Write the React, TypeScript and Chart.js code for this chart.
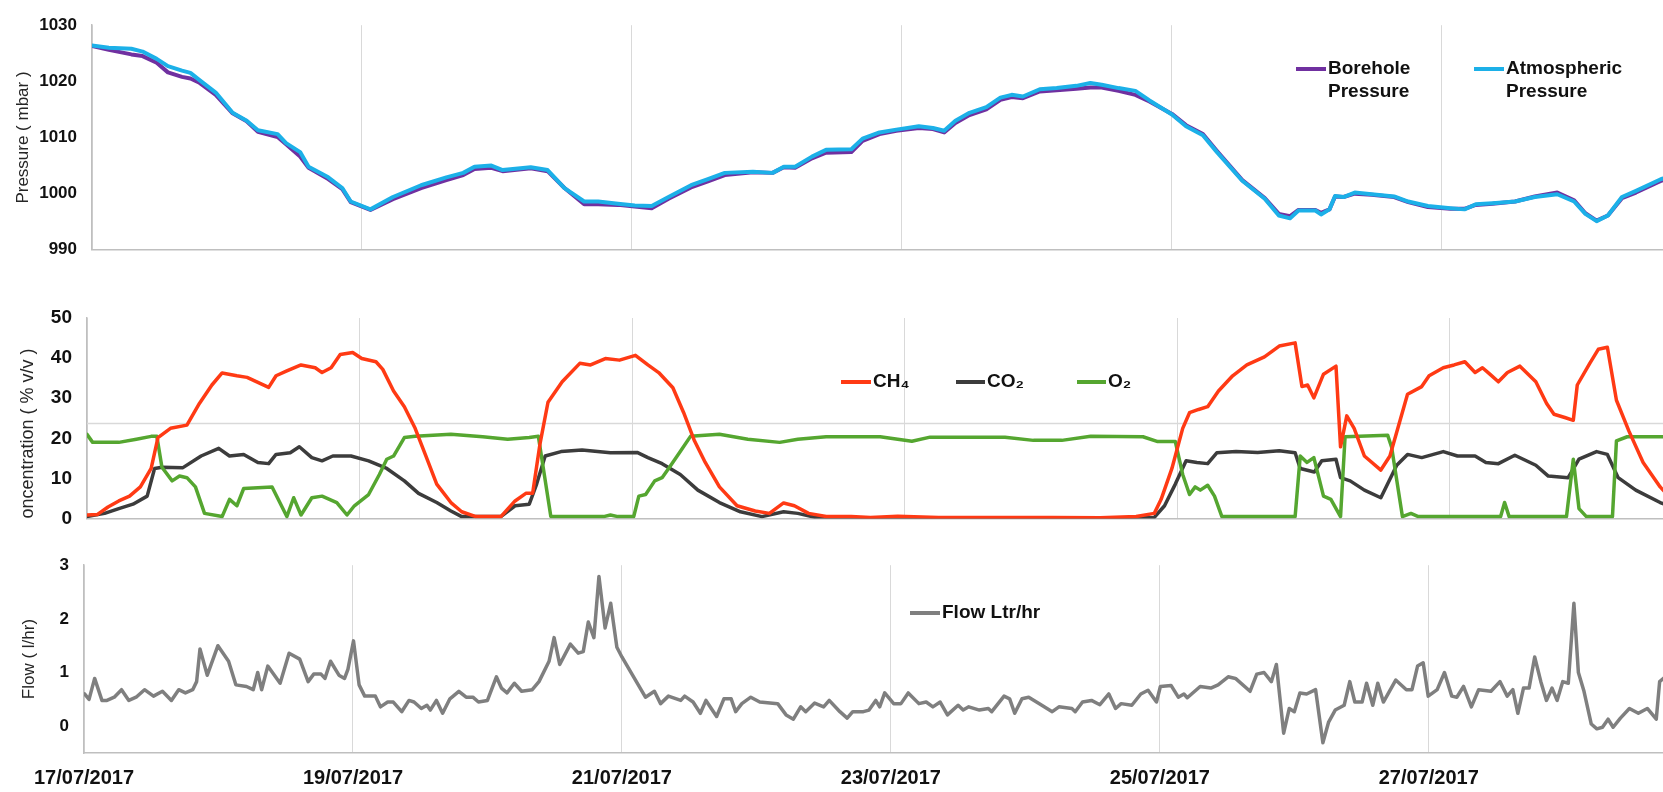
import { useEffect, useRef } from "react";
import { Chart, registerables } from "chart.js";

Chart.register(...registerables);

const FONT = '"Liberation Sans", Arial, Helvetica, sans-serif';

// ---------- shared x axis (hours since 17/07/2017 00:00) ----------
const dateTickLabels = ["17/07/2017", "19/07/2017", "21/07/2017", "23/07/2017", "25/07/2017", "27/07/2017"];
const dateTickStepHours = 48;

// ---------- panel 1 : pressure ----------
const pressureHours = [
  0, 3, 5, 7, 9, 11.5, 13.5, 16, 17.5, 19,
  22, 25, 27.5, 29.5, 33, 34.5, 37, 38.5, 42, 44.5,
  46, 49.5, 53.5, 58.5, 63, 66, 68, 71, 73, 78,
  81, 84, 87.5, 90, 93.5, 96.5, 99.5, 102.5, 106.5, 109.5,
  112.5, 117.5, 121, 123, 125, 128, 130.5, 135, 137, 140,
  143, 147, 149.5, 151.5, 153.5, 156, 159, 161.5, 163.5, 165.5,
  168.5, 171.5, 175, 177.5, 179.5, 182.5, 185.5, 188, 192, 194.5,
  197.5, 200, 204.5, 208.5, 211, 213, 214.5, 217.5, 218.5, 220,
  221, 222.5, 224.5, 227.5, 231.5, 234, 237.5, 241.5, 244, 246,
  249, 253, 256.5, 260.5, 263.5, 265.5, 267.5, 269.5, 272, 274.5,
  279, 282,
];
const atmosphericPressure = [
  1026.4, 1026.0, 1025.9, 1025.8, 1025.3, 1024.0, 1022.7, 1021.9, 1021.5, 1020.3,
  1018.0, 1014.4, 1013.0, 1011.3, 1010.6, 1009.0, 1007.4, 1004.8, 1002.9, 1001.0,
  998.6, 997.2, 999.4, 1001.5, 1002.9, 1003.7, 1004.8, 1005.0, 1004.2, 1004.7,
  1004.2, 1001.0, 998.6, 998.6, 998.2, 997.9, 997.8, 999.4, 1001.5, 1002.6,
  1003.7, 1003.9, 1003.7, 1004.8, 1004.8, 1006.6, 1007.8, 1007.9, 1009.8, 1010.9,
  1011.4, 1012.0, 1011.7, 1011.2, 1013.0, 1014.4, 1015.4, 1017.1, 1017.6, 1017.3,
  1018.6, 1018.8, 1019.2, 1019.7, 1019.4, 1018.8, 1018.3, 1016.6, 1014.1, 1012.0,
  1010.4, 1007.4, 1002.3, 999.1, 996.1, 995.6, 997.0, 997.0, 996.3, 997.2,
  999.6, 999.4, 1000.2, 999.9, 999.5, 998.6, 997.8, 997.4, 997.2, 998.1,
  998.3, 998.6, 999.4, 999.9, 998.6, 996.4, 995.1, 996.1, 999.4, 1000.5,
  1002.6, 1003.4,
];
const boreholePressure = [
  1026.3, 1025.6, 1025.2, 1024.8, 1024.5, 1023.3, 1021.6, 1020.8, 1020.5, 1019.8,
  1017.6, 1014.3, 1012.9, 1011.0, 1010.1, 1008.8, 1006.6, 1004.6, 1002.6, 1000.8,
  998.5, 997.1, 999.0, 1001.0, 1002.4, 1003.3, 1004.4, 1004.6, 1004.0, 1004.5,
  1004.0, 1001.0, 998.1, 998.1, 998.0, 997.7, 997.4, 999.1, 1001.1, 1002.2,
  1003.3, 1003.8, 1003.7, 1004.7, 1004.6, 1006.3, 1007.3, 1007.4, 1009.4, 1010.6,
  1011.2, 1011.7, 1011.5, 1010.9, 1012.6, 1014.0, 1015.0, 1016.7, 1017.2, 1017.0,
  1018.2, 1018.4, 1018.7, 1018.9, 1018.9, 1018.3, 1017.6, 1016.4, 1014.2, 1012.2,
  1010.6, 1007.6, 1002.4, 999.2, 996.4, 996.0, 997.1, 997.1, 996.6, 997.2,
  999.5, 999.4, 1000.0, 999.8, 999.4, 998.5, 997.6, 997.3, 997.3, 998.0,
  998.2, 998.6, 999.5, 1000.2, 998.8, 996.5, 995.2, 996.1, 999.2, 1000.2,
  1002.3, 1003.1,
];
const pressureTicks = [990, 1000, 1010, 1020, 1030];

// ---------- panel 2 : gas concentration ----------
const ch4Hours = [
  0, 1.8, 3.7, 5.6, 7.5, 9.4, 11.3, 12.5, 14.7, 17.6,
  19.8, 22, 23.8, 26.4, 28.2, 32, 33.3, 35.2, 37.7, 40.2,
  41.4, 43, 44.6, 46.8, 48.4, 50.9, 52.1, 54, 55.9, 57.8,
  59.7, 61.6, 64.1, 66, 68.5, 72.9, 75.4, 77.3, 78.5, 79.8,
  81.2, 83.7, 86.8, 88.7, 91.3, 93.8, 96.6, 98.8, 100.7, 103.2,
  105.1, 107, 108.9, 111.4, 114.5, 117.7, 120.2, 122.7, 124.6, 127.1,
  130.2, 134.6, 138, 142.8, 150, 160, 170, 178.5, 184.8, 188,
  189.2, 191.1, 193, 194.2, 195.8, 197.4, 199.3, 201.8, 204.3, 207.4,
  210, 212.8, 214, 215, 216.1, 217.8, 220, 220.8, 221.9, 223.2,
  225, 227.9, 229.5, 232.6, 235.1, 236.4, 238.9, 240.8, 242.7, 244.5,
  245.8, 247.1, 248.6, 250.2, 252.4, 255.2, 257.1, 258.4, 260.3, 261.8,
  262.5, 264.7, 266.2, 267.8, 269.4, 271.6, 274.1, 277.1, 279,
];
const ch4Values = [
  0.9, 1.0, 2.9, 4.4, 5.6, 7.9, 12.5, 20.2, 22.5, 23.3,
  28.7, 33.3, 36.3, 35.6, 35.2, 32.7, 35.6, 36.8, 38.3, 37.6,
  36.4, 37.6, 40.9, 41.4, 39.9, 39.1, 37.2, 31.8, 27.9, 22.5,
  15.6, 8.6, 4.0, 1.7, 0.5, 0.5, 4.4, 6.3, 6.3, 18.7,
  29.0, 34.1, 38.7, 38.3, 39.9, 39.5, 40.7, 38.3, 36.4, 32.6,
  26.4, 19.4, 14.0, 7.9, 3.2, 1.9, 1.3, 3.9, 3.2, 1.3,
  0.5, 0.5, 0.3, 0.6, 0.3, 0.3, 0.3, 0.2, 0.5, 1.3,
  4.8, 12.5, 22.5, 26.4, 27.2, 27.9, 31.8, 35.6, 38.3, 40.3,
  43.0, 43.8, 32.9, 33.3, 30.1, 36.0, 38.0, 17.9, 25.6, 22.5,
  15.6, 12.1, 15.6, 31.0, 32.9, 35.6, 37.6, 38.3, 39.1, 36.4,
  37.6, 36.0, 34.1, 36.4, 38.0, 34.1, 28.7, 26.0, 25.2, 24.5,
  33.3, 38.7, 42.2, 42.7, 29.5, 21.8, 14.0, 7.9, 5.0,
];
const co2Hours = [
  0, 3.1, 5.6, 8.1, 10.6, 11.9, 13.2, 16.9, 20.1, 23.2,
  25.1, 27.6, 30.1, 32, 33.3, 35.8, 37.4, 39.6, 41.4, 43.3,
  46.5, 49.6, 52.8, 55.9, 58.4, 61.6, 64.1, 66, 72.9, 75.4,
  77.9, 79.2, 80.7, 83.5, 87.2, 92.2, 96.9, 98.8, 101.3, 104.5,
  107.6, 111.4, 115.1, 118.9, 122.7, 125.2, 128.3, 150, 188, 189.8,
  191.7, 193.6, 195.5, 197.4, 199, 202.4, 206.2, 210, 212.8, 213.7,
  216.2, 217.5, 220, 220.8, 222.5, 225, 227.9, 230.7, 232.6, 235.1,
  238.9, 241.4, 244.5, 246.4, 248.6, 251.5, 255.2, 257.4, 260.9, 262.8,
  265.9, 267.8, 269.7, 272.8, 277.1, 279,
];
const co2Values = [
  0.5, 1.3, 2.5, 3.6, 5.6, 12.5, 12.8, 12.7, 15.6, 17.5,
  15.6, 16.0, 14.0, 13.7, 16.0, 16.4, 17.9, 15.2, 14.4, 15.6,
  15.6, 14.4, 12.5, 9.4, 6.3, 4.0, 1.9, 0.5, 0.5, 3.2,
  3.6, 8.6, 15.6, 16.7, 17.1, 16.4, 16.5, 15.2, 13.7, 11.0,
  7.1, 4.0, 1.7, 0.5, 1.7, 1.3, 0.3, 0.2, 0.3, 3.2,
  8.6, 14.4, 14.0, 13.7, 16.4, 16.7, 16.5, 16.9, 16.4, 12.5,
  11.6, 14.4, 14.8, 10.2, 9.4, 7.1, 5.2, 13.3, 16.0, 15.2,
  16.7, 15.6, 15.6, 14.0, 13.7, 15.8, 13.3, 10.6, 10.2, 14.8,
  16.7, 16.0, 10.2, 7.1, 4.0, 3.0,
];
const o2Hours = [
  0, 1, 5.6, 8.7, 11.3, 12.3, 13.2, 15, 16.3, 17.6,
  19.1, 20.7, 23.8, 25.1, 26.4, 27.6, 32.6, 35.2, 36.4, 37.7,
  39.6, 41.4, 44, 45.8, 47.1, 49.6, 51.5, 52.8, 54, 55.9,
  57.8, 64.1, 69.7, 74.1, 77.9, 79.5, 81.7, 91, 92.2, 93.5,
  96.3, 97.2, 98.4, 100, 101.3, 102.6, 104.5, 106.3, 111.4, 116.4,
  122, 125.2, 130.2, 139.7, 142.8, 145.3, 148.5, 161.7, 166.7, 171.7,
  176.8, 186, 188.6, 191.7, 193, 194.2, 195.2, 196.1, 197.4, 198.6,
  199.9, 212.8, 213.7, 214.9, 216.1, 217.8, 219.1, 220.8, 221.6, 229.1,
  229.8, 231.7, 233.2, 234.5, 249, 249.7, 250.5, 260.6, 261.8, 262.8,
  264.1, 268.7, 269.4, 271.3, 279,
];
const o2Values = [
  21.0, 19.0, 19.0, 19.8, 20.5, 20.5, 12.8, 9.4, 10.6, 10.2,
  7.9, 1.3, 0.5, 4.8, 3.2, 7.5, 7.9, 0.5, 5.2, 0.9,
  5.2, 5.6, 4.0, 0.9, 3.2, 6.0, 11.0, 14.8, 15.6, 20.2,
  20.5, 21.0, 20.4, 19.8, 20.2, 20.5, 0.5, 0.5, 0.9, 0.5,
  0.5, 5.6, 6.0, 9.4, 10.2, 12.8, 16.7, 20.5, 21.0, 19.8,
  19.0, 19.8, 20.4, 20.4, 19.8, 19.3, 20.3, 20.3, 19.5, 19.5,
  20.5, 20.4, 19.2, 19.2, 11.0, 6.0, 7.9, 7.1, 8.3, 5.6,
  0.5, 0.5, 15.6, 14.0, 15.2, 5.6, 4.8, 0.5, 20.4, 20.8,
  17.8, 0.5, 1.3, 0.5, 0.5, 4.0, 0.5, 0.5, 14.8, 2.5,
  0.5, 0.5, 19.4, 20.4, 20.4,
];
const gasTicks = [0, 10, 20, 30, 40, 50];
const gasReferenceLevel = 23.7;

// ---------- panel 3 : flow ----------
const flowHours = [
  0.1, 0.9, 1.9, 3.2, 4.1, 5.4, 6.7, 8, 9.3, 10.8,
  12.4, 14, 15.6, 16.9, 18.1, 19.4, 20.1, 20.7, 22, 23.9,
  25.8, 27.1, 29, 30.2, 31, 31.7, 32.8, 35, 36.6, 38.5,
  40, 41, 42.3, 43, 44, 45.5, 46.5, 47.1, 48.1, 49.1,
  50.1, 52, 52.9, 54.2, 55.2, 56.7, 58, 58.9, 60.2, 61.2,
  61.8, 62.9, 64, 65.3, 66.9, 68.2, 69.4, 70.4, 72, 73.6,
  74.5, 75.5, 76.8, 78.1, 80, 81.2, 83, 83.9, 84.9, 86.8,
  88.2, 89.1, 90, 91, 91.9, 93, 94, 95.1, 96, 97.9,
  100.2, 101.8, 102.9, 104.3, 106.5, 107.2, 108.7, 110, 111, 112.9,
  114.2, 115.5, 116.3, 117.4, 119, 120.6, 123.8, 125.3, 126.6, 127.9,
  128.8, 130.4, 132, 133, 134.9, 136.2, 137.2, 139.1, 140.1, 141.3,
  142, 142.9, 144.5, 145.8, 147.1, 149, 150.3, 151.5, 152.8, 154.1,
  156, 156.9, 157.9, 159.8, 161.4, 162, 164.2, 165.2, 166.1, 167.4,
  168.6, 170.5, 172.8, 174, 176.3, 176.9, 178.2, 179.8, 181.3, 182.9,
  184.1, 185.1, 187, 188.6, 189.9, 191.4, 192.1, 194, 195.3, 196.3,
  196.9, 199.2, 201.1, 202.4, 204.2, 205.5, 208.1, 209.3, 210.6, 211.9,
  212.8, 214.1, 215.1, 216, 217, 218.2, 219.8, 221.1, 222.1, 223.3,
  224.9, 225.9, 226.8, 228.1, 228.9, 230, 230.9, 231.9, 234.1, 236,
  237, 238, 239, 239.9, 241.5, 242.8, 244.1, 245, 246.2, 247.6,
  248.9, 251.1, 252.7, 254, 255, 255.9, 256.9, 257.9, 258.9, 260,
  261, 262, 262.9, 263.9, 264.9, 265.9, 266.7, 267.7, 269, 270,
  271, 272, 272.9, 274.2, 275.8, 277.4, 279, 280.6, 281.2, 282,
];
const flowValues = [
  0.6, 0.5, 0.89, 0.48, 0.48, 0.54, 0.68, 0.48, 0.54, 0.68,
  0.56, 0.65, 0.48, 0.68, 0.62, 0.68, 0.83, 1.44, 0.95, 1.5,
  1.21, 0.77, 0.74, 0.68, 1.0, 0.68, 1.12, 0.8, 1.36, 1.25,
  0.83, 0.97, 0.97, 0.89, 1.21, 0.95, 0.89, 1.06, 1.59, 0.77,
  0.56, 0.56, 0.36, 0.45, 0.45, 0.27, 0.48, 0.45, 0.33, 0.39,
  0.3, 0.48, 0.24, 0.51, 0.65, 0.54, 0.54, 0.45, 0.48, 0.92,
  0.71, 0.62, 0.8, 0.65, 0.68, 0.83, 1.21, 1.65, 1.15, 1.53,
  1.36, 1.39, 1.94, 1.65, 2.79, 1.83, 2.29, 1.47, 1.29, 0.95,
  0.54, 0.65, 0.42, 0.56, 0.48, 0.56, 0.45, 0.24, 0.48, 0.18,
  0.51, 0.51, 0.27, 0.42, 0.54, 0.45, 0.42, 0.21, 0.13, 0.36,
  0.27, 0.43, 0.36, 0.48, 0.27, 0.15, 0.27, 0.27, 0.3, 0.48,
  0.36, 0.62, 0.42, 0.42, 0.62, 0.42, 0.45, 0.36, 0.45, 0.21,
  0.39, 0.3, 0.36, 0.3, 0.33, 0.27, 0.56, 0.51, 0.24, 0.51,
  0.54, 0.42, 0.27, 0.36, 0.33, 0.27, 0.45, 0.48, 0.4, 0.6,
  0.33, 0.42, 0.39, 0.6, 0.67, 0.45, 0.74, 0.76, 0.54, 0.6,
  0.53, 0.74, 0.71, 0.77, 0.92, 0.89, 0.65, 0.97, 1.0, 0.83,
  1.15, -0.13, 0.33, 0.27, 0.62, 0.6, 0.68, -0.31, 0.07, 0.3,
  0.39, 0.83, 0.45, 0.45, 0.8, 0.39, 0.8, 0.45, 0.86, 0.68,
  0.68, 1.12, 1.18, 0.56, 0.68, 1.0, 0.56, 0.54, 0.74, 0.36,
  0.68, 0.65, 0.83, 0.56, 0.68, 0.24, 0.71, 0.71, 1.29, 0.83,
  0.48, 0.71, 0.48, 0.83, 0.8, 2.29, 1.0, 0.65, 0.04, -0.05,
  -0.02, 0.13, -0.02, 0.15, 0.33, 0.24, 0.33, 0.13, 0.83, 0.9,
];
const flowTicks = [0, 1, 2, 3];

// ---------- helpers ----------
function toPoints(hours: number[], values: number[]) {
  const n = Math.min(hours.length, values.length);
  const out: { x: number; y: number }[] = [];
  for (let i = 0; i < n; i++) out.push({ x: hours[i], y: values[i] });
  return out;
}

type LegendItem = { index: number; x1: number; x2: number; y: number; wrap?: boolean };

function legendPlugin(items: LegendItem[]) {
  return {
    id: "customLegend",
    afterDraw(chart: any) {
      const ctx = chart.ctx as CanvasRenderingContext2D;
      ctx.save();
      items.forEach((it) => {
        const ds = chart.data.datasets[it.index];
        ctx.strokeStyle = ds.borderColor;
        ctx.lineWidth = 4;
        ctx.lineCap = "butt";
        ctx.beginPath();
        ctx.moveTo(it.x1, it.y);
        ctx.lineTo(it.x2, it.y);
        ctx.stroke();
        ctx.fillStyle = "#111";
        ctx.font = `bold 19px ${FONT}`;
        ctx.textBaseline = "middle";
        ctx.textAlign = "left";
        const lines: string[] = it.wrap ? String(ds.label).split(" ") : [String(ds.label)];
        lines.forEach((t, k) => ctx.fillText(t, it.x2 + 2, it.y + k * 23));
      });
      ctx.restore();
    },
  };
}

type PanelSpec = {
  datasets: any[];
  xMax: number;
  yMin: number;
  yMax: number;
  yTicks: number[];
  tickSize: number;
  axisWidth: number;
  padTop: number;
  padBottom: number;
  title: string;
  titleSize: number;
  titlePad: number;
  titleAlign: "start" | "center" | "end";
  showDates: boolean;
  xAxisHeight?: number;
  legend: LegendItem[];
};

function makeConfig(p: PanelSpec): any {
  return {
    type: "line",
    data: { datasets: p.datasets },
    options: {
      responsive: false,
      animation: false,
      devicePixelRatio: 1,
      events: [],
      layout: { padding: { top: p.padTop, bottom: p.padBottom, left: 0, right: 0 } },
      plugins: { legend: { display: false }, tooltip: { enabled: false } },
      elements: {
        point: { radius: 0 },
        line: { tension: 0, borderJoinStyle: "round", borderCapStyle: "round" },
      },
      scales: {
        x: {
          type: "linear",
          min: 0,
          max: p.xMax,
          grid: { color: "#D9D9D9", lineWidth: 1, drawTicks: false },
          border: { color: "#BFBFBF", width: 1.5 },
          ticks: {
            display: p.showDates,
            stepSize: dateTickStepHours,
            includeBounds: false,
            autoSkip: false,
            maxRotation: 0,
            minRotation: 0,
            padding: 13,
            color: "#111",
            font: { family: FONT, size: 20, weight: "bold" },
            callback: (v: number) =>
              v % dateTickStepHours === 0 ? dateTickLabels[v / dateTickStepHours] ?? "" : "",
          },
          afterFit: (s: any) => {
            if (p.xAxisHeight != null) s.height = p.xAxisHeight;
          },
        },
        y: {
          type: "linear",
          min: p.yMin,
          max: p.yMax,
          afterBuildTicks: (s: any) => {
            s.ticks = p.yTicks.map((value) => ({ value }));
          },
          afterFit: (s: any) => {
            s.width = p.axisWidth;
          },
          grid: { display: false, drawTicks: false },
          border: { color: "#BFBFBF", width: 1.5 },
          ticks: {
            padding: 15,
            color: "#111",
            font: { family: FONT, size: p.tickSize, weight: "bold" },
            callback: (v: number) => String(v),
          },
          title: {
            display: true,
            text: p.title,
            color: "#262626",
            align: p.titleAlign,
            font: { family: FONT, size: p.titleSize, weight: "normal" },
            padding: { top: p.titlePad, bottom: 0 },
          },
        },
      },
    },
    plugins: [legendPlugin(p.legend)],
  };
}

function Panel({ top, height, spec }: { top: number; height: number; spec: () => PanelSpec }) {
  const ref = useRef<HTMLCanvasElement>(null);
  useEffect(() => {
    if (!ref.current) return;
    const chart = new Chart(ref.current, makeConfig(spec()));
    return () => chart.destroy();
  }, []);
  return (
    <canvas
      ref={ref}
      width={1663}
      height={height}
      style={{ position: "absolute", left: 0, top, width: 1663, height }}
    />
  );
}

const pressureSpec = (): PanelSpec => ({
  datasets: [
    {
      label: "Borehole Pressure",
      data: toPoints(pressureHours, boreholePressure),
      borderColor: "#7030A0",
      borderWidth: 4,
      order: 2,
    },
    {
      label: "Atmospheric Pressure",
      data: toPoints(pressureHours, atmosphericPressure),
      borderColor: "#1CB0E8",
      borderWidth: 4,
      order: 1,
    },
  ],
  xMax: 279.3,
  yMin: 990,
  yMax: 1030,
  yTicks: pressureTicks,
  tickSize: 17,
  axisWidth: 92,
  padTop: 16,
  padBottom: 10,
  title: "Pressure ( mbar )",
  titleSize: 17,
  titlePad: 13,
  titleAlign: "center",
  showDates: false,
  legend: [
    { index: 0, x1: 1296, x2: 1326, y: 69, wrap: true },
    { index: 1, x1: 1474, x2: 1504, y: 69, wrap: true },
  ],
});

const gasSpec = (): PanelSpec => ({
  datasets: [
    {
      label: "CH\u2084",
      data: toPoints(ch4Hours, ch4Values),
      borderColor: "#FF3A14",
      borderWidth: 3.5,
      order: 1,
    },
    {
      label: "CO\u2082",
      data: toPoints(co2Hours, co2Values),
      borderColor: "#3C3C3C",
      borderWidth: 3.5,
      order: 3,
    },
    {
      label: "O\u2082",
      data: toPoints(o2Hours, o2Values),
      borderColor: "#55A630",
      borderWidth: 3.5,
      order: 2,
    },
    {
      label: "reference",
      data: [
        { x: 0, y: gasReferenceLevel },
        { x: 300, y: gasReferenceLevel },
      ],
      borderColor: "#D9D9D9",
      borderWidth: 1.5,
      order: 10,
    },
  ],
  xMax: 277.6,
  yMin: 0,
  yMax: 50,
  yTicks: gasTicks,
  tickSize: 19,
  axisWidth: 87,
  padTop: 38,
  padBottom: 11,
  title: "oncentration ( % v/v )",
  titleSize: 18,
  titlePad: 17,
  titleAlign: "start",
  showDates: false,
  legend: [
    { index: 0, x1: 841, x2: 871, y: 102 },
    { index: 1, x1: 956, x2: 985, y: 102 },
    { index: 2, x1: 1077, x2: 1106, y: 102 },
  ],
});

const flowSpec = (): PanelSpec => ({
  datasets: [
    {
      label: "Flow Ltr/hr",
      data: toPoints(flowHours, flowValues),
      borderColor: "#7F7F7F",
      borderWidth: 3.5,
      order: 1,
    },
  ],
  xMax: 281.8,
  yMin: -0.5,
  yMax: 3,
  yTicks: flowTicks,
  tickSize: 17,
  axisWidth: 84,
  padTop: 13,
  padBottom: 0,
  title: "Flow ( l/hr)",
  titleSize: 17,
  titlePad: 19,
  titleAlign: "center",
  showDates: true,
  xAxisHeight: 39,
  legend: [{ index: 0, x1: 910, x2: 940, y: 73 }],
});

export default function App() {
  return (
    <div
      style={{
        position: "absolute",
        left: 0,
        top: 0,
        width: 1663,
        height: 792,
        overflow: "hidden",
        background: "#fff",
      }}
    >
      <Panel top={0} height={275} spec={pressureSpec} />
      <Panel top={280} height={265} spec={gasSpec} />
      <Panel top={540} height={252} spec={flowSpec} />
    </div>
  );
}
